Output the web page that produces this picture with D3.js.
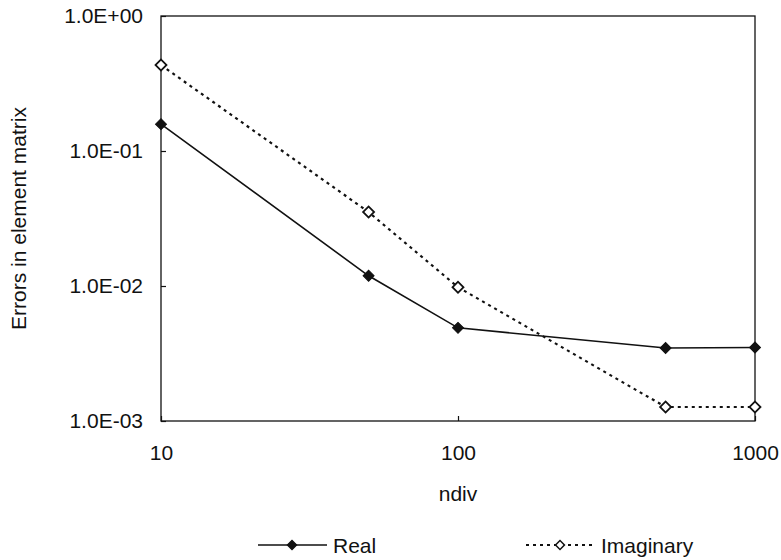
<!DOCTYPE html>
<html>
<head>
<meta charset="utf-8">
<script src="https://cdn.jsdelivr.net/npm/d3@7"></script>
<style>
  body { margin: 0; background: #fff; }
  svg text { font-family: "Liberation Sans", Arial, sans-serif; fill: #111; }
</style>
</head>
<body>
<div id="chart"></div>
<script>
// values
const ndiv = [10, 50, 100, 500, 1000]
const realErr = [0.158, 0.0119, 0.0049, 0.00347, 0.0035]
const imagErr = [0.433, 0.0353, 0.0098, 0.00127, 0.00127]
const yTicks = [1, 0.1, 0.01, 0.001]
const yTickLabels = ["1.0E+00", "1.0E-01", "1.0E-02", "1.0E-03"]
const xTicks = [10, 100, 1000]
const seriesNames = ["Real", "Imaginary"]

const width = 781
const height = 560
const margin = {top: 16, right: 26, bottom: 139, left: 161}
const fontSize = 21

var svg = d3.select("#chart")
            .append("svg")
              .attr("width", width)
              .attr("height", height)

var x = d3.scaleLog()
          .domain([10, 1000])
          .range([margin.left, width - margin.right])

var y = d3.scaleLog()
          .domain([0.001, 1])
          .range([height - margin.bottom, margin.top])

// Plot frame
svg.append("rect")
    .attr("x", x(10))
    .attr("y", y(1))
    .attr("width", x(1000) - x(10))
    .attr("height", y(0.001) - y(1))
    .attr("fill", "none")
    .attr("stroke", "#111")
    .attr("stroke-width", 1.3)

// Axes, ticks pointing inside
var yAxis = svg.append("g")
    .attr("transform", `translate(${x(10)},0)`)
    .call(d3.axisLeft(y)
            .tickValues(yTicks)
            .tickSize(-5)
            .tickPadding(18)
            .tickFormat((d, i) => yTickLabels[i]))

var xAxis = svg.append("g")
    .attr("transform", `translate(0,${y(0.001)})`)
    .call(d3.axisBottom(x)
            .tickValues(xTicks)
            .tickSize(-5)
            .tickPadding(24)
            .tickFormat(d3.format("d")))

svg.selectAll(".domain").remove()
svg.selectAll(".tick line").attr("stroke", "#111").attr("stroke-width", 1.2)
svg.selectAll(".tick text")
    .style("font-size", fontSize + "px")
    .style("font-family", "'Liberation Sans', Arial, sans-serif")
    .attr("fill", "#111")

// Axis titles
svg.append("text")
    .attr("transform", `translate(26,${(y(1) + y(0.001)) / 2}) rotate(-90)`)
    .attr("text-anchor", "middle")
    .style("font-size", fontSize + "px")
    .text("Errors in element matrix")

svg.append("text")
    .attr("x", (x(10) + x(1000)) / 2)
    .attr("y", 501)
    .attr("text-anchor", "middle")
    .style("font-size", fontSize + "px")
    .text("ndiv")

// Lines
var line = d3.line()
             .x((d, i) => x(ndiv[i]))
             .y(d => y(d))

svg.append("path")
    .datum(realErr)
    .attr("d", line)
    .attr("fill", "none")
    .attr("stroke", "#111")
    .attr("stroke-width", 1.6)

svg.append("path")
    .datum(imagErr)
    .attr("d", line)
    .attr("fill", "none")
    .attr("stroke", "#111")
    .attr("stroke-width", 2.2)
    .attr("stroke-dasharray", "3,4")

// Markers (diamonds)
var diamond = d3.symbol().type(d3.symbolSquare).size(60)

svg.selectAll("path.real")
    .data(realErr).enter()
    .append("path")
      .attr("class", "real")
      .attr("d", diamond)
      .attr("transform", (d, i) => `translate(${x(ndiv[i])},${y(d)}) rotate(45)`)
      .attr("fill", "#111")
      .attr("stroke", "#111")
      .attr("stroke-width", 1)

svg.selectAll("path.imag")
    .data(imagErr).enter()
    .append("path")
      .attr("class", "imag")
      .attr("d", diamond)
      .attr("transform", (d, i) => `translate(${x(ndiv[i])},${y(d)}) rotate(45)`)
      .attr("fill", "#fff")
      .attr("stroke", "#111")
      .attr("stroke-width", 1.8)

// Legend
var legendY = 545
var legendX = [258, 526]
var legend = svg.selectAll("g.legend")
    .data(seriesNames).enter()
    .append("g")
      .attr("class", "legend")
      .attr("transform", (d, i) => `translate(${legendX[i]},${legendY})`)

legend.append("line")
    .attr("x1", 0)
    .attr("x2", 69)
    .attr("stroke", "#111")
    .attr("stroke-width", (d, i) => i === 0 ? 1.6 : 2)
    .attr("stroke-dasharray", (d, i) => i === 0 ? null : "3,4")

legend.append("path")
    .attr("d", d3.symbol().type(d3.symbolSquare).size(40))
    .attr("transform", "translate(34,0) rotate(45)")
    .attr("fill", (d, i) => i === 0 ? "#111" : "#fff")
    .attr("stroke", "#111")
    .attr("stroke-width", 1.5)

legend.append("text")
    .attr("x", 75)
    .attr("y", 8)
    .style("font-size", fontSize + "px")
    .text(d => d)
</script>
</body>
</html>
